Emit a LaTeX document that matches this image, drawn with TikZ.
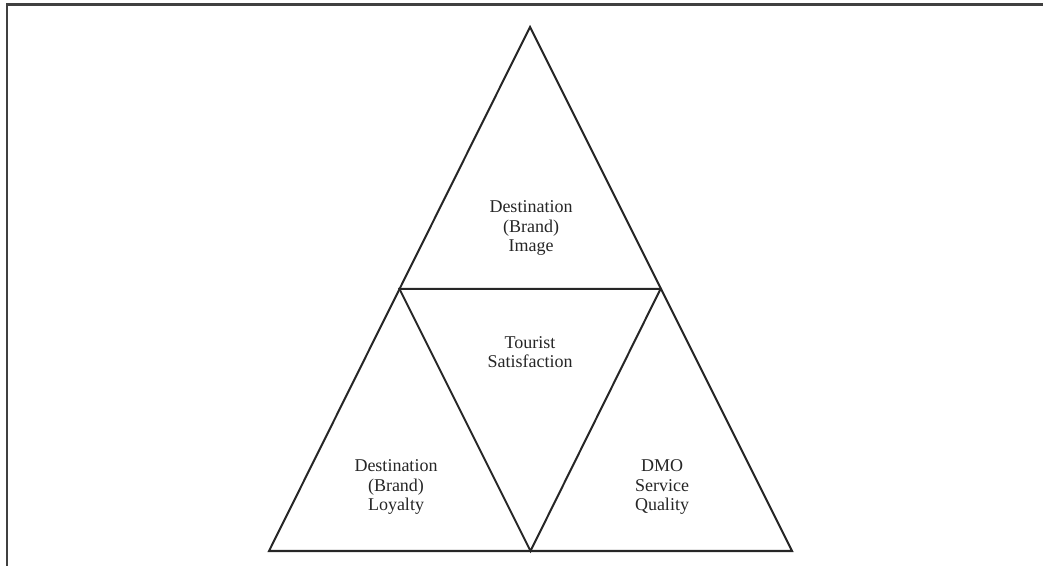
\documentclass[tikz,border=0pt]{standalone}
\usepackage{fontspec}
\setmainfont{Liberation Serif}
\begin{document}
\begin{tikzpicture}[x=0.75pt,y=-0.75pt,
  tri/.style={line width=1.5pt,line join=miter,black!85},
  lbl/.style={align=center,font=\fontsize{13.5}{14.6}\selectfont,text=black!85,inner sep=0pt},
  frame/.style={line width=1.6pt,black!75}]
\useasboundingbox (0,0) rectangle (1043,566);
\coordinate (fl) at (7,566);
\coordinate (ft) at (7,4.5);
\coordinate (fr) at (1043,4.5);
\draw[frame] (fl) -- (ft) -- (fr);
\coordinate (A) at (530,27);
\coordinate (L) at (269,551);
\coordinate (R) at (792,551);
\coordinate (ML) at (399.5,289);
\coordinate (MR) at (660.5,289);
\coordinate (MB) at (530.5,551);
\draw[tri] (A) -- (L) -- (R) -- cycle;
\draw[tri] (ML) -- (MR) -- (MB) -- cycle;
\node[lbl] (img) at (531,228) {Destination\\(Brand)\\Image};
\node[lbl] (sat) at (530,352) {Tourist\\Satisfaction};
\node[lbl] (loy) at (396,487) {Destination\\(Brand)\\Loyalty};
\node[lbl] (dmo) at (662,487) {DMO\\Service\\Quality};
\end{tikzpicture}
\end{document}
